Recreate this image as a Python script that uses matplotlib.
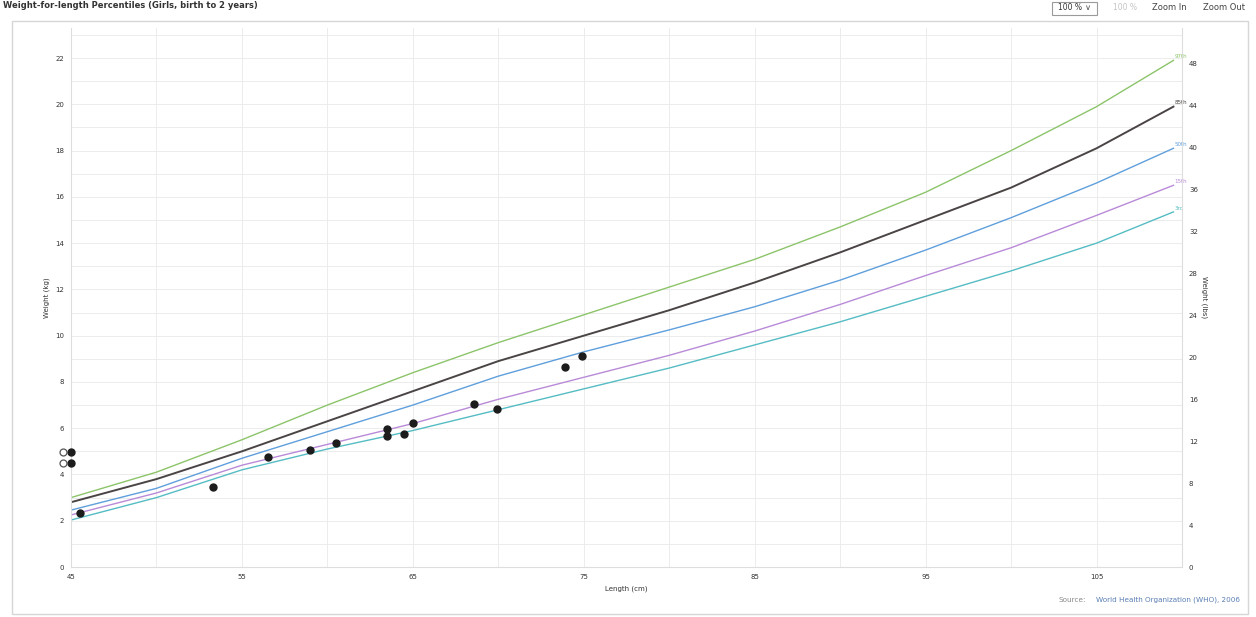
import matplotlib
matplotlib.use("Agg")
import matplotlib.pyplot as plt
from matplotlib.patches import Rectangle

lengths = [45, 50, 55, 60, 65, 70, 75, 80, 85, 90, 95, 100, 105, 109.5]

p97 = [3.0, 4.1, 5.5, 7.0, 8.4, 9.7, 10.9, 12.1, 13.3, 14.7, 16.2, 18.0, 19.9, 21.9]
p85 = [2.8, 3.8, 5.0, 6.3, 7.6, 8.9, 10.0, 11.1, 12.3, 13.6, 15.0, 16.4, 18.1, 19.9]
p50 = [2.46, 3.4, 4.7, 5.85, 7.0, 8.25, 9.3, 10.25, 11.25, 12.4, 13.7, 15.1, 16.6, 18.1]
p15 = [2.25, 3.2, 4.4, 5.3, 6.2, 7.25, 8.2, 9.15, 10.2, 11.35, 12.6, 13.8, 15.2, 16.5]
p3 = [2.03, 3.0, 4.2, 5.1, 5.9, 6.8, 7.7, 8.6, 9.6, 10.6, 11.7, 12.8, 14.0, 15.35]

curve_labels = ["97th", "85th", "50th", "15th", "3rd"]
curve_colors = ["#8cc46a", "#4a4444", "#5f9fdc", "#b98ad8", "#55bcc4"]

# patient measurements
pt_length = [45.5, 53.3, 56.5, 59.0, 60.5, 63.5, 63.5, 64.5, 65.0, 68.6, 69.9, 73.9, 74.9]
pt_weight = [2.33, 3.46, 4.75, 5.05, 5.36, 5.96, 5.66, 5.75, 6.22, 7.04, 6.83, 8.64, 9.11]

# measurements outside the length range, pinned to the axis
off_weight = [4.97, 4.49]

x_ticks = [45, 55, 65, 75, 85, 95, 105]
kg_ticks = list(range(0, 24, 2))
lb_ticks = list(range(0, 52, 4))

KG_TO_LB = 2.20462

fig = plt.figure(figsize=(12.56, 6.17), dpi=100)

# panel frame
fig.patches.append(Rectangle((12 / 1256, 3 / 617), 1236 / 1256, 593 / 617,
                             transform=fig.transFigure, facecolor="none",
                             edgecolor="#d6d6d6", linewidth=1.0))

fig.text(3 / 1256, 1 - 5 / 617, "Weight-for-length Percentiles (Girls, birth to 2 years)",
         fontsize=6, fontweight="bold", color="#333333", va="center", ha="left")

# zoom controls top right
fig.patches.append(Rectangle((1052 / 1256, 1 - 15 / 617), 45 / 1256, 13 / 617,
                             transform=fig.transFigure, facecolor="white",
                             edgecolor="#9a9a9a", linewidth=0.8))
fig.text(1058 / 1256, 1 - 8 / 617, "100 %", fontsize=5.5, color="#333333", va="center")
fig.text(1085 / 1256, 1 - 8 / 617, "\u2228", fontsize=6, color="#555555", va="center")
fig.text(1113 / 1256, 1 - 8 / 617, "100 %", fontsize=5.5, color="#c4c4c4", va="center")
fig.text(1152 / 1256, 1 - 8 / 617, "Zoom In", fontsize=6, color="#444444", va="center")
fig.text(1203 / 1256, 1 - 8 / 617, "Zoom Out", fontsize=6, color="#444444", va="center")

ax = fig.add_axes([71 / 1256, 50 / 617, 1111 / 1256, 539 / 617])
ax.set_xlim(45, 110)
ax.set_ylim(0, 23.3)

ax.set_xticks(range(45, 111, 5), minor=True)
ax.set_yticks(range(0, 24), minor=True)
ax.set_xticks(x_ticks)
ax.set_yticks(kg_ticks)
ax.grid(which="both", color="#ececec", linewidth=0.7)
ax.set_axisbelow(True)

for spine in ax.spines.values():
    spine.set_visible(False)
ax.spines["left"].set_visible(True)
ax.spines["left"].set_color("#dddddd")
ax.spines["bottom"].set_visible(True)
ax.spines["bottom"].set_color("#dddddd")

ax.tick_params(which="both", length=0, labelsize=5, labelcolor="#333333", pad=5)

curves = [p97, p85, p50, p15, p3]
for values, label, color in zip(curves, curve_labels, curve_colors):
    lw = 1.4 if label == "85th" else 1.0
    ax.plot(lengths, values, color=color, linewidth=lw, zorder=2)
    ax.annotate(label, (lengths[-1], values[-1]), xytext=(1, 1),
                textcoords="offset points", fontsize=4, color=color,
                ha="left", va="bottom", annotation_clip=False)

ax.plot(pt_length, pt_weight, "o", color="#1c1c1c", markersize=5, zorder=3)

for w in off_weight:
    ax.plot([45], [w], "o", color="#1c1c1c", markersize=5, clip_on=False, zorder=3)
    ax.plot([44.55], [w], "o", markerfacecolor="white", markeredgecolor="#555555",
            markersize=5, markeredgewidth=0.9, clip_on=False, zorder=3)

ax.set_xlabel("Length (cm)", fontsize=5, color="#333333", labelpad=4)
ax.set_ylabel("Weight (kg)", fontsize=5, color="#333333", labelpad=4)

ax2 = ax.twinx()
ax2.set_ylim(0, 23.3 * KG_TO_LB)
ax2.set_yticks(lb_ticks)
for spine in ax2.spines.values():
    spine.set_visible(False)
ax2.spines["right"].set_visible(True)
ax2.spines["right"].set_color("#dddddd")
ax2.tick_params(length=0, labelsize=5, labelcolor="#333333", pad=5)
ax2.set_ylabel("Weight (lbs)", fontsize=5, color="#333333", rotation=270, labelpad=7)

fig.text(1240 / 1256, 17 / 617, "World Health Organization (WHO), 2006",
         fontsize=5.2, color="#5a7fb5", ha="right", va="center")
fig.text(1086 / 1256, 17 / 617, "Source:", fontsize=5.2, color="#888888",
         ha="right", va="center")

fig.savefig("out.png", dpi=100)
